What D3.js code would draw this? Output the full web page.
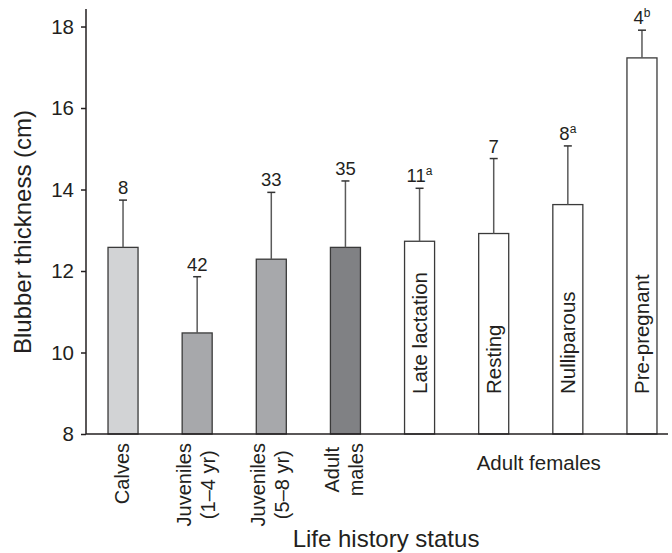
<!DOCTYPE html>
<html>
<head>
<meta charset="utf-8">
<script src="https://cdn.jsdelivr.net/npm/d3@7"></script>
<style>
  html, body { margin: 0; padding: 0; background: #fff; }
  svg { display: block; font-family: "Liberation Sans", Arial, Helvetica, sans-serif; }
  text { fill: #231f20; }
</style>
</head>
<body>
<svg id="chart" width="672" height="553"></svg>
<script>
// ---- data ----
const categories = ["Calves", "Juveniles (1–4 yr)", "Juveniles (5–8 yr)", "Adult males",
                    "Late lactation", "Resting", "Nulliparous", "Pre-pregnant"];
const axisLabelLines = [["Calves"], ["Juveniles", "(1–4 yr)"], ["Juveniles", "(5–8 yr)"], ["Adult", "males"],
                        [], [], [], []];
const innerLabels = ["", "", "", "", "Late lactation", "Resting", "Nulliparous", "Pre-pregnant"];
const meanValues = [12.58, 10.48, 12.29, 12.58, 12.73, 12.92, 13.63, 17.23];
const sdValues   = [1.16, 1.38, 1.64, 1.63, 1.30, 1.84, 1.44, 0.68];
const sampleSizes = ["8", "42", "33", "35", "11", "7", "8", "4"];
const superscripts = ["", "", "", "", "a", "", "a", "b"];
const groupOf = ["calf", "juv", "juv", "male", "female", "female", "female", "female"];
const femaleGroupLabel = "Adult females";
const yTicks = [8, 10, 12, 14, 16, 18];
const yTitle = "Blubber thickness (cm)";
const xTitle = "Life history status";

const fills = { calf: "#d2d3d5", juv: "#a7a8ab", male: "#808184", female: "#ffffff" };

// ---- layout ----
const svg = d3.select("#chart");
const axisX = 86, axisY = 434, axisRight = 668;

const x = d3.scaleBand().domain(categories).range([axisX, 679])
  .paddingInner(0.595).paddingOuter(0.297);
const y = d3.scaleLinear().domain([8, 18.43]).range([axisY, 9]);

const data = categories.map((c, i) => ({
  cat: c, mean: meanValues[i], sd: sdValues[i], n: sampleSizes[i], sup: superscripts[i],
  group: groupOf[i], inner: innerLabels[i], lines: axisLabelLines[i]
}));

// bars
svg.append("g").selectAll("rect").data(data).join("rect")
  .attr("x", d => x(d.cat))
  .attr("y", d => y(d.mean))
  .attr("width", x.bandwidth())
  .attr("height", d => y(8) - y(d.mean))
  .attr("fill", d => fills[d.group])
  .attr("stroke", "#3a3a3a")
  .attr("stroke-width", 1.3);

// error bars
const eb = svg.append("g");
eb.selectAll("line.stem").data(data).join("line")
  .attr("class", "stem")
  .attr("x1", d => x(d.cat) + x.bandwidth() / 2)
  .attr("x2", d => x(d.cat) + x.bandwidth() / 2)
  .attr("y1", d => y(d.mean))
  .attr("y2", d => y(d.mean + d.sd))
  .attr("stroke", "#5a5a5a").attr("stroke-width", 1.5);
eb.selectAll("line.cap").data(data).join("line")
  .attr("class", "cap")
  .attr("x1", d => x(d.cat) + x.bandwidth() / 2 - 4)
  .attr("x2", d => x(d.cat) + x.bandwidth() / 2 + 4)
  .attr("y1", d => y(d.mean + d.sd))
  .attr("y2", d => y(d.mean + d.sd))
  .attr("stroke", "#333").attr("stroke-width", 1.5);

// sample size labels
const nl = svg.append("g").selectAll("text").data(data).join("text")
  .attr("x", d => x(d.cat) + x.bandwidth() / 2)
  .attr("y", d => y(d.mean + d.sd) - 6)
  .attr("text-anchor", "middle")
  .attr("font-size", 18.5);
nl.append("tspan").text(d => d.n);
nl.filter(d => d.sup).append("tspan")
  .attr("font-size", 12).attr("dy", -7).text(d => d.sup);

// inner labels (rotated inside bars)
svg.append("g").selectAll("text").data(data.filter(d => d.inner)).join("text")
  .attr("transform", d => `translate(${x(d.cat) + x.bandwidth() / 2},394) rotate(-90)`)
  .attr("dy", "0.35em")
  .attr("text-anchor", "start")
  .attr("font-size", 20.5)
  .text(d => d.inner);

// y axis
const yAxis = svg.append("g").attr("transform", `translate(${axisX},0)`)
  .call(d3.axisLeft(y).tickValues(yTicks).tickSize(5).tickPadding(7).tickFormat(d3.format("d")));
yAxis.select(".domain").attr("d", `M0,${y(18.43)}V${axisY}`).attr("stroke", "#231f20").attr("stroke-width", 1.5);
yAxis.selectAll(".tick line").attr("stroke", "#231f20").attr("stroke-width", 1.5);
yAxis.selectAll(".tick text").attr("font-size", 20.5).attr("fill", "#231f20")
  .attr("font-family", "'Liberation Sans', Arial, Helvetica, sans-serif");

// x axis line
svg.append("line")
  .attr("x1", axisX).attr("x2", axisRight)
  .attr("y1", axisY).attr("y2", axisY)
  .attr("stroke", "#231f20").attr("stroke-width", 1.5);

// category labels (rotated below axis)
const lineGap = 24;
data.filter(d => d.lines.length).forEach(d => {
  const g = svg.append("g");
  const texts = d.lines.map((ln, i) => g.append("text").attr("font-size", 20).text(ln));
  const maxLen = d3.max(texts, t => t.node().getComputedTextLength());
  const cy = 443 + maxLen / 2;
  const cx = x(d.cat) + x.bandwidth() / 2 + 6;
  const nLines = d.lines.length;
  texts.forEach((t, i) => {
    const bx = cx + (i - (nLines - 1) / 2) * lineGap;
    t.attr("text-anchor", "middle")
     .attr("transform", `translate(${bx},${cy}) rotate(-90)`);
  });
});

// Adult females group label
const femaleCenters = data.filter(d => d.group === "female").map(d => x(d.cat) + x.bandwidth() / 2);
svg.append("text")
  .attr("x", d3.mean(femaleCenters) + 8)
  .attr("y", 470)
  .attr("text-anchor", "middle")
  .attr("font-size", 20.5)
  .text(femaleGroupLabel);

// axis titles
svg.append("text")
  .attr("x", 386).attr("y", 547)
  .attr("text-anchor", "middle")
  .attr("font-size", 24)
  .text(xTitle);
svg.append("text")
  .attr("transform", `translate(31,232) rotate(-90)`)
  .attr("text-anchor", "middle")
  .attr("font-size", 24)
  .text(yTitle);
</script>
</body>
</html>
